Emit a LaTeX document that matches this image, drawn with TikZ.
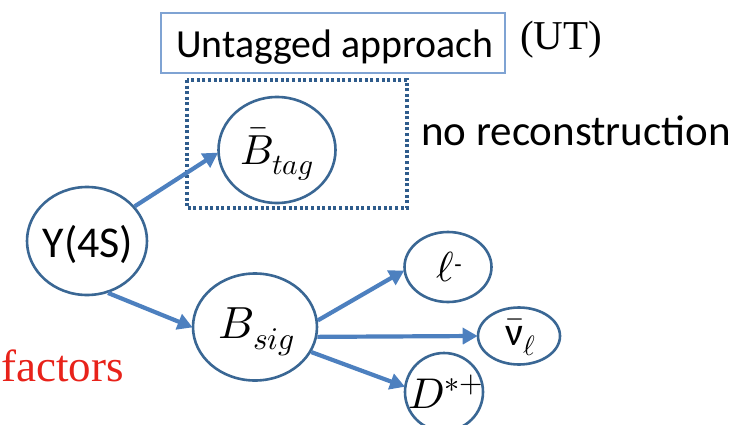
\documentclass[tikz,border=0pt]{standalone}
\usepackage{fontspec}
\usepackage{unicode-math}
\setmathfont{Latin Modern Math}
\newfontfamily\calfont{Carlito}
\newfontfamily\timesfont{Liberation Serif}
\usetikzlibrary{shapes.geometric,arrows.meta}
\definecolor{circblue}{HTML}{3A6794}
\definecolor{arrblue}{HTML}{4D80BF}
\definecolor{boxblue}{HTML}{7FA3D3}
\definecolor{dotblue}{HTML}{2F5C8C}
\definecolor{redtext}{HTML}{E8221A}
\tikzset{
  circ/.style={ellipse, draw=circblue, line width=2.6pt, inner sep=0pt, fill=white},
  arr/.style={draw=arrblue, line width=4.2pt, -{Triangle[length=15pt,width=16pt]}, shorten >=-1pt},
  fs/.style={font=\fontsize{#1}{#1}\selectfont}
}
\begin{document}
\begin{tikzpicture}[x=1pt,y=-1pt]
\useasboundingbox (0,0) rectangle (738,425);
% Untagged box
\node[draw=boxblue, line width=1.3pt, minimum width=344pt, minimum height=60pt, inner sep=0pt] (utbox) at (333,43) {};
\node[fs=39.8, anchor=base, inner sep=0pt] (uttext) at (335,58) {\calfont Untagged approach};
\node[fs=41, anchor=base, inner sep=0pt] (ut) at (561,50) {\timesfont (UT)};
% dotted box
\draw[dotblue, line width=3.2pt, dash pattern=on 3pt off 2.6pt] (187,80) rectangle (407,208);
\node[fs=43, anchor=base west, inner sep=0pt] (norec) at (421,145) {\calfont no reconstruction};
% circles
\node[circ, minimum width=117pt, minimum height=106pt] (btag) at (277,150) {};
\node[fs=42, inner sep=0pt] (btagl) at (277,154) {$\bar{B}_{tag}$};
\node[circ, minimum width=120pt, minimum height=108pt] (y4s) at (87,241) {};
\node[fs=44, inner sep=0pt] (y4sl) at (88,244) {\calfont Y(4S)};
\node[circ, minimum width=124pt, minimum height=107pt] (bsig) at (255,327) {};
\node[fs=45, inner sep=0pt] (bsigl) at (257,332) {$B_{sig}$};
\node[circ, minimum width=87pt, minimum height=70pt] (ell) at (448,267) {};
\node[fs=42, inner sep=0pt] (elll) at (449,267) {$\ell$\raisebox{0.5ex}{\fontsize{24}{24}\selectfont\calfont -}};
\node[circ, minimum width=82pt, minimum height=57pt] (nu) at (519,336) {};
\node[fs=40, inner sep=0pt] (nul) at (521,337) {$\bar{\hbox{\calfont ν}}_{\ell}$};
\node[circ, minimum width=78pt, minimum height=78pt] (dst) at (444,392) {};
\node[fs=43, inner sep=0pt] (dstl) at (446,392) {$D^{*+}$};
% arrows
\draw[arr] (y4s.36) -- (btag.183);
\draw[arr] (y4s.-68) -- (bsig.180);
\draw[arr] (bsig.6) -- (ell.185);
\draw[arr] (bsig.-9) -- (nu.180);
\draw[arr] (bsig.-24) -- (dst.172);
% factors
\node[fs=45, anchor=base west, inner sep=0pt, text=redtext] (fac) at (1,381) {\timesfont factors};
\end{tikzpicture}
\end{document}
